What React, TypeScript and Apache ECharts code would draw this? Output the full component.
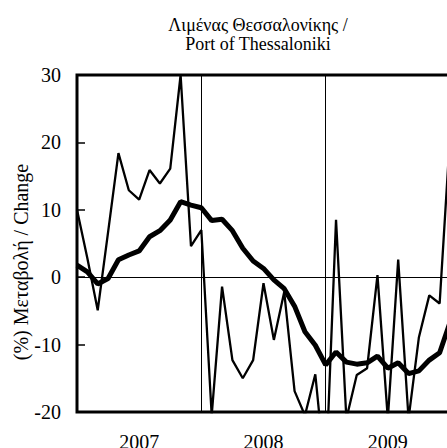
import React, { useEffect, useRef } from "react";
import * as echarts from "echarts";

// Months from Jan 2007 to Jan 2010
const months: string[] = [];
for (let y = 2007; y <= 2010; y++) {
  for (let m = 1; m <= 12; m++) {
    if (y === 2010 && m > 1) break;
    months.push(`${y}-${m < 10 ? "0" + m : m}`);
  }
}

const titleLines = ["Λιμένας Θεσσαλονίκης /", "Port of Thessaloniki"];
const yAxisName = "(%) Μεταβολή / Change";

// Monthly % change (thin line)
const monthlyChange = [
  10, 2.8, -4.9, 6.7, 18.4, 12.9, 11.5, 15.9, 13.9, 16.1, 30, 4.6,
  7.0, -20.5, -1.4, -12.3, -15.0, -12.3, -0.9, -9.3, -2.2, -16.9, -20.5, -14.4,
  -30, 8.5, -21, -14.5, -13.5, 0.3, -21, 2.6, -21, -8.9, -2.7, -3.9,
  21,
];

// Moving average (thick line)
const movingAverage = [
  1.8, 0.8, -1.0, -0.2, 2.6, 3.3, 3.9, 6.0, 6.9, 8.5, 11.2, 10.7,
  10.3, 8.4, 8.6, 6.9, 4.3, 2.4, 1.3, -0.4, -1.7, -4.3, -8.1, -10.1,
  -13.0, -11.1, -12.6, -12.9, -12.7, -11.7, -13.5, -12.7, -14.3, -13.9, -12.3, -11.2,
  -6.7,
];

const yMin = -20;
const yMax = 30;
const yStep = 10;

export default function App() {
  const ref = useRef<HTMLDivElement>(null);

  useEffect(() => {
    if (!ref.current) return;
    const chart = echarts.init(ref.current, null, { renderer: "svg" });
    const font = "'Liberation Serif', 'Times New Roman', serif";
    chart.setOption({
      animation: false,
      backgroundColor: "#fff",
      grid: {
        left: 77,
        top: 75,
        width: 373,
        height: 337,
        show: true,
        borderColor: "#000",
        borderWidth: 3,
        backgroundColor: "transparent",
        containLabel: false,
        outerBoundsMode: "none",
      },
      graphic: [
        {
          type: "text",
          x: 258,
          y: 25,
          style: {
            text: titleLines[0],
            font: `18px ${font}`,
            fill: "#000",
            textAlign: "center",
            textVerticalAlign: "middle",
          },
        },
        {
          type: "text",
          x: 258,
          y: 44,
          style: {
            text: titleLines[1],
            font: `18px ${font}`,
            fill: "#000",
            textAlign: "center",
            textVerticalAlign: "middle",
          },
        },
        {
          type: "text",
          x: 21,
          y: 262,
          rotation: Math.PI / 2,
          style: {
            text: yAxisName,
            font: `20px ${font}`,
            fill: "#000",
            textAlign: "center",
            textVerticalAlign: "middle",
          },
        },
      ],
      xAxis: {
        type: "category",
        data: months,
        boundaryGap: false,
        axisLine: { show: false },
        axisTick: { show: false },
        axisLabel: {
          interval: 0,
          formatter: (v: string, i: number) => (i % 12 === 6 ? v.slice(0, 4) : ""),
          fontSize: 20,
          fontFamily: font,
          color: "#000",
          margin: 20,
          hideOverlap: false,
        },
        splitLine: {
          show: true,
          interval: (i: number) => i === 12 || i === 24,
          lineStyle: { color: "#000", width: 1 },
        },
      },
      yAxis: {
        type: "value",
        min: yMin,
        max: yMax,
        interval: yStep,
        axisLine: { show: false },
        axisTick: {
          show: true,
          inside: true,
          length: 8,
          lineStyle: { color: "#000", width: 1.5 },
        },
        axisLabel: {
          fontSize: 20,
          fontFamily: font,
          color: "#000",
          margin: 16,
        },
        splitLine: { show: false },
      },
      series: [
        {
          type: "line",
          data: monthlyChange,
          symbol: "none",
          lineStyle: { color: "#000", width: 2.3 },
          z: 3,
          markLine: {
            silent: true,
            symbol: ["none", "none"],
            label: { show: false },
            lineStyle: { color: "#000", width: 1, type: "solid" },
            data: [{ yAxis: 0 }],
          },
        },
        {
          type: "line",
          data: movingAverage,
          symbol: "none",
          lineStyle: { color: "#000", width: 5 },
          z: 4,
        },
      ],
    });
    return () => chart.dispose();
  }, []);

  return (
    <div
      ref={ref}
      style={{ position: "fixed", left: 0, top: 0, width: 447, height: 448 }}
    />
  );
}
